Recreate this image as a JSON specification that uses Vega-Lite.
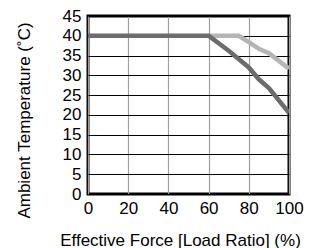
{
  "$schema": "https://vega.github.io/schema/vega-lite/v6.json",
  "width": 201,
  "height": 178,
  "autosize": "none",
  "padding": {"left": 88, "top": 16, "right": 20, "bottom": 54},
  "background": "white",
  "config": {
    "font": "Liberation Sans",
    "view": {"stroke": "black", "strokeWidth": 3},
    "axis": {"labelFont": "Liberation Sans", "titleFont": "Liberation Sans", "labelColor": "black", "titleColor": "black", "titleFontWeight": "normal", "ticks": false, "domain": false, "labelOverlap": false}
  },
  "data": {"values": [
    {"x": 60, "y": 40, "s": "b"},
    {"x": 75, "y": 40, "s": "b"},
    {"x": 80, "y": 38.4, "s": "b"},
    {"x": 85, "y": 36.7, "s": "b"},
    {"x": 90, "y": 35.6, "s": "b"},
    {"x": 100, "y": 31.7, "s": "b"},
    {"x": 0, "y": 40, "s": "a"},
    {"x": 60, "y": 40, "s": "a"},
    {"x": 70, "y": 36.2, "s": "a"},
    {"x": 80, "y": 32, "s": "a"},
    {"x": 85, "y": 29, "s": "a"},
    {"x": 90, "y": 26.8, "s": "a"},
    {"x": 100, "y": 20.5, "s": "a"}
  ]},
  "mark": {"type": "line", "strokeWidth": 4.5, "clip": true},
  "encoding": {
    "x": {"field": "x", "type": "quantitative", "scale": {"domain": [0, 100], "nice": false},
      "axis": {"values": [0, 20, 40, 60, 80, 100], "title": "Effective Force [Load Ratio] (%)", "labelFontSize": 17, "titleFontSize": 17, "labelPadding": 6, "titleX": 92, "titleY": 51, "titleBaseline": "alphabetic", "gridColor": "#a0a0a0", "gridWidth": 1.2, "gridOpacity": 1, "labelFlush": false}},
    "y": {"field": "y", "type": "quantitative", "scale": {"domain": [0, 45], "nice": false},
      "axis": {"values": [0, 5, 10, 15, 20, 25, 30, 35, 40, 45], "title": "Ambient Temperature (˚C)", "labelFontSize": 17, "titleFontSize": 17, "labelPadding": 7, "titleX": -64, "titleY": 104, "titleBaseline": "middle", "gridColor": "black", "gridWidth": 1, "gridOpacity": 1, "labelFlush": false}},
    "color": {"field": "s", "type": "nominal", "scale": {"domain": ["a", "b"], "range": ["#6c6c6c", "#b5b5b5"]}, "legend": null},
    "order": {"field": "x", "type": "quantitative"}
  }
}
